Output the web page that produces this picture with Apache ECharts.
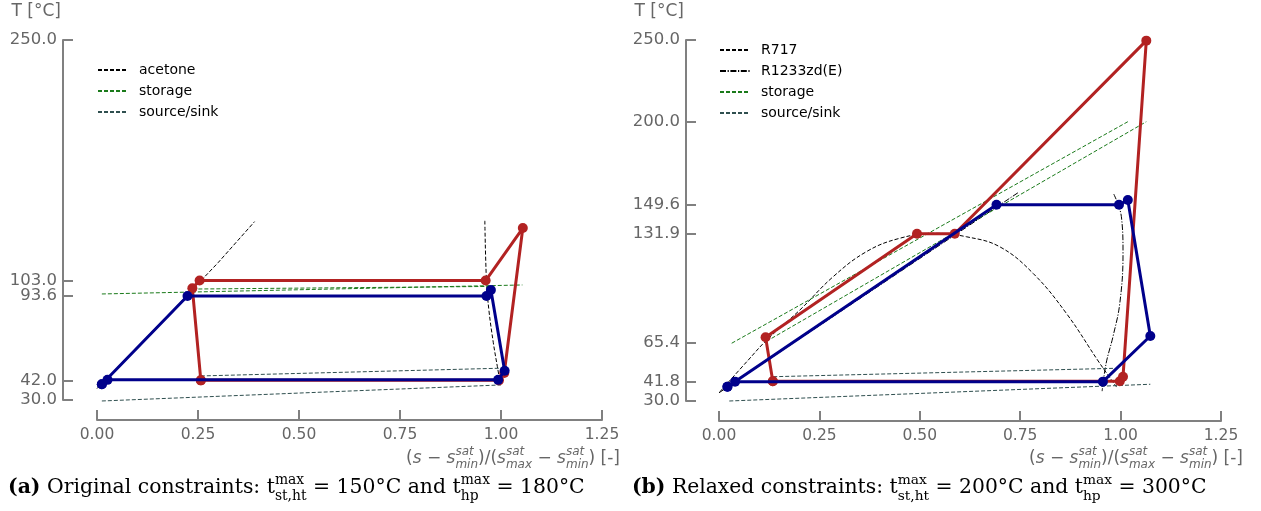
<!DOCTYPE html>
<html><head><meta charset="utf-8">
<script src="https://cdn.jsdelivr.net/npm/echarts@6/dist/echarts.min.js"></script>
<style>html,body{margin:0;padding:0;background:#fff}#c{width:1261px;height:511px}</style>
</head><body><div id="c"></div>
<script>
// ---------- data ----------
const xTicks = [0, 0.25, 0.5, 0.75, 1.0, 1.25];
const yTicksA = [30.0, 42.0, 93.6, 103.0, 250.0];
const yTicksB = [30.0, 41.8, 65.4, 131.9, 149.6, 200.0, 250.0];

// (a) original constraints
const hpCycleA = [[0.257,42.0],[0.995,42.0],[1.008,46.5],[1.054,135.1],[0.962,103.0],[0.254,103.0],[0.236,98.3],[0.257,42.0]];
const orcCycleA = [[0.012,39.6],[0.224,93.6],[0.964,93.6],[0.975,97.2],[1.009,47.9],[0.993,42.3],[0.026,42.3],[0.012,39.6]];
const acetoneLiqA = [[0.0,37.0],[0.10,62.5],[0.20,88.0],[0.30,114.0],[0.39,139.0]];
const acetoneVapA = [[0.960,139.5],[0.964,103.0],[0.970,85.0],[0.981,65.0],[0.991,50.4],[0.999,39.2]];
const storage1A = [[0.012,94.8],[1.053,100.3]];
const storage2A = [[0.236,97.8],[0.975,99.4]];
const sourceSink1A = [[0.257,44.7],[0.995,49.4]];
const sourceSink2A = [[0.012,29.4],[1.000,39.2]];

// (b) relaxed constraints
const hpCycleB = [[0.134,42.0],[0.998,42.0],[1.006,44.8],[1.064,249.6],[0.587,131.9],[0.493,131.9],[0.116,68.8],[0.134,42.0]];
const orcCycleB = [[0.021,38.7],[0.691,149.6],[0.996,149.6],[1.018,152.5],[1.074,69.6],[0.956,41.8],[0.040,41.8],[0.021,38.7]];
const r717B = [[0.0025,35.7],[0.073,55.0],[0.119,67.2],[0.2015,85.5],[0.284,105.7],[0.367,121.0],[0.449,129.1],[0.537,132.2],[0.616,130.1],[0.699,124.0],[0.782,107.8],[0.865,83.4],[0.948,53.0],[0.990,38.5]];
const r1233LiqB = [[0.0,35.0],[0.745,157.0]];
const r1233VapB = [[0.983,156.1],[1.002,142.3],[1.006,120.0],[0.998,89.5],[0.981,69.2],[0.964,53.0],[0.954,36.0]];
const storage1B = [[0.0316,65.2],[1.018,200.2]];
const storage2B = [[0.131,68.2],[1.064,200.2]];
const sourceSink1B = [[0.135,44.8],[0.981,49.9]];
const sourceSink2B = [[0.0256,30.0],[1.074,40.2]];

// ---------- styles ----------
const AX = '#808080', LBL = '#666666';
const RED = '#B22222', BLUE = '#00008B';
const GREEN = '#1a7a1a', SLATE = '#2F4F4F';
const DASH = [4, 2], DASHDOT = [6, 1.6, 1.2, 1.6];

function xAx(gi) {
  return {
    type: 'value', gridIndex: gi, min: 0, max: 1.25, offset: 20,
    splitLine: {show: false},
    axisLine: {show: true, onZero: false, lineStyle: {color: AX, width: 2}},
    axisTick: {show: true, inside: true, length: 10, customValues: xTicks, lineStyle: {color: AX, width: 2}},
    axisLabel: {customValues: xTicks, formatter: v => (+v).toFixed(2), color: LBL, fontSize: 15.5, fontFamily: 'DejaVu Sans', margin: 7}
  };
}
function yAx(gi, ticks, off) {
  return {
    type: 'value', gridIndex: gi, min: 30, max: 250, offset: off,
    splitLine: {show: false},
    axisLine: {show: true, onZero: false, lineStyle: {color: AX, width: 2}},
    axisTick: {show: true, inside: true, length: 10, customValues: ticks, lineStyle: {color: AX, width: 2}},
    axisLabel: {customValues: ticks, formatter: v => (+v).toFixed(1), color: LBL, fontSize: 16.5, fontFamily: 'DejaVu Sans', margin: 6}
  };
}
function thin(name, gi, data, color, type, smooth) {
  return {type: 'line', name, xAxisIndex: gi, yAxisIndex: gi, data, symbol: 'none', clip: false, silent: true,
    smooth: smooth || false,
    lineStyle: {color, width: 1, type}, itemStyle: {color}, z: 2, animation: false};
}
function cycle(name, gi, data, color, z) {
  return {type: 'line', name, xAxisIndex: gi, yAxisIndex: gi, data, symbol: 'circle', symbolSize: 10, clip: false,
    lineStyle: {color, width: 3}, itemStyle: {color}, z, animation: false};
}

const series = [
  thin('acetone', 0, acetoneLiqA, '#000', DASH),
  thin('acetone', 0, acetoneVapA, '#000', DASH, 0.4),
  thin('storage', 0, storage1A, GREEN, DASH),
  thin('storage', 0, storage2A, GREEN, DASH),
  thin('source/sink', 0, sourceSink1A, SLATE, DASH),
  thin('source/sink', 0, sourceSink2A, SLATE, DASH),
  cycle('hp', 0, hpCycleA, RED, 4),
  cycle('orc', 0, orcCycleA, BLUE, 5),

  thin('R717', 1, r717B, '#000', DASH, 0.4),
  thin('R1233zd(E)', 1, r1233LiqB, '#000', DASHDOT),
  thin('R1233zd(E)', 1, r1233VapB, '#000', DASHDOT, 0.4),
  thin('storage', 1, storage1B, GREEN, DASH),
  thin('storage', 1, storage2B, GREEN, DASH),
  thin('source/sink', 1, sourceSink1B, SLATE, DASH),
  thin('source/sink', 1, sourceSink2B, SLATE, DASH),
  cycle('hp', 1, hpCycleB, RED, 4),
  cycle('orc', 1, orcCycleB, BLUE, 5)
];

// ---------- math-like text via graphic ----------
const mctx = document.createElement('canvas').getContext('2d');
function tw(t, f) { mctx.font = f; return mctx.measureText(t).width; }
function measure(pieces) {
  let total = 0;
  pieces.forEach(p => {
    p.w = (p.sup !== undefined) ? Math.max(tw(p.sup, p.font), tw(p.sub, p.font)) : tw(p.t, p.font);
    total += p.w;
  });
  return total;
}
function buildText(pieces, x0, yc, align, color, supDy, subDy) {
  const total = measure(pieces);
  let x = align === 'right' ? x0 - total : x0;
  const els = [];
  pieces.forEach(p => {
    if (p.sup !== undefined) {
      els.push({type: 'text', x, y: yc + supDy, silent: true, style: {text: p.sup, font: p.font, fill: color, align: 'left', verticalAlign: 'middle'}});
      els.push({type: 'text', x, y: yc + subDy, silent: true, style: {text: p.sub, font: p.font, fill: color, align: 'left', verticalAlign: 'middle'}});
    } else {
      els.push({type: 'text', x, y: yc, silent: true, style: {text: p.t, font: p.font, fill: color, align: 'left', verticalAlign: 'middle'}});
    }
    x += p.w;
  });
  return els;
}
const FN = '17px "DejaVu Sans"', FI = 'italic 17px "DejaVu Sans"', FS = 'italic 12px "DejaVu Sans"';
function axisTitle() {
  return [
    {t: '(', font: FN}, {t: 's', font: FI}, {t: ' \u2212 ', font: FN}, {t: 's', font: FI}, {sup: 'sat', sub: 'min', font: FS},
    {t: ')/(', font: FN}, {t: 's', font: FI}, {sup: 'sat', sub: 'max', font: FS}, {t: ' \u2212 ', font: FN},
    {t: 's', font: FI}, {sup: 'sat', sub: 'min', font: FS}, {t: ')', font: FN}, {t: ' [-]', font: FN}
  ];
}
function caption(tag, txt, t1, t2, size) {
  const CB = 'bold ' + size + 'px "DejaVu Serif"', CN = size + 'px "DejaVu Serif"', CS = (size * 0.68).toFixed(1) + 'px "DejaVu Serif"';
  return [
    {t: tag, font: CB}, {t: ' ' + txt + ': t', font: CN}, {sup: 'max', sub: 'st,ht', font: CS},
    {t: ' = ' + t1 + '\u00B0C and t', font: CN}, {sup: 'max', sub: 'hp', font: CS}, {t: ' = ' + t2 + '\u00B0C', font: CN}
  ];
}
function fitCaption(tag, txt, t1, t2, target) {
  const w = measure(caption(tag, txt, t1, t2, 20));
  const s = 20 * target / w;
  return caption(tag, txt, t1, t2, s);
}

const graphic = [].concat(
  [{type: 'text', x: 61, y: 12, silent: true, style: {text: 'T [\u00B0C]', font: '17px "DejaVu Sans"', fill: LBL, align: 'right', verticalAlign: 'middle'}},
   {type: 'text', x: 684, y: 12, silent: true, style: {text: 'T [\u00B0C]', font: '17px "DejaVu Sans"', fill: LBL, align: 'right', verticalAlign: 'middle'}}],
  buildText(axisTitle(), 620, 459, 'right', LBL, -7, 6),
  buildText(axisTitle(), 1243, 459, 'right', LBL, -7, 6),
  buildText(fitCaption('(a)', 'Original constraints', '150', '180', 577), 8, 488, 'left', '#000', -8, 8),
  buildText(fitCaption('(b)', 'Relaxed constraints', '200', '300', 575), 632, 488, 'left', '#000', -8, 8)
);

const legendCommon = {
  orient: 'vertical', itemWidth: 30, itemHeight: 14, itemGap: 7, selectedMode: false,
  itemStyle: {opacity: 0},
  textStyle: {fontSize: 14, color: '#000', fontFamily: 'DejaVu Sans', lineHeight: 14, padding: [0, 0, 0, 6]}
};

const chart = echarts.init(document.getElementById('c'), null, {renderer: 'canvas'});
chart.setOption({
  animation: false,
  backgroundColor: '#fff',
  grid: [
    {left: 97, top: 40, width: 505, height: 360, containLabel: false},
    {left: 719, top: 40, width: 502, height: 361, containLabel: false}
  ],
  xAxis: [xAx(0), xAx(1)],
  yAxis: [yAx(0, yTicksA, 34), yAx(1, yTicksB, 33)],
  legend: [
    Object.assign({}, legendCommon, {left: 92, top: 58, data: ['acetone', 'storage', 'source/sink']}),
    Object.assign({}, legendCommon, {left: 714, top: 38, data: ['R717', 'R1233zd(E)', 'storage', 'source/sink']})
  ],
  series,
  graphic
});
</script></body></html>
